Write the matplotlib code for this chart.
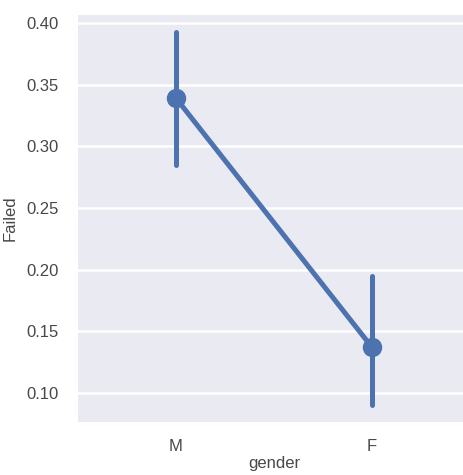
import numpy as np
import matplotlib
matplotlib.use("Agg")
import matplotlib.pyplot as plt

categories = ["M", "F"]
failed_mean = [0.339, 0.137]
ci_low = [0.285, 0.090]
ci_high = [0.393, 0.195]
y_ticks = [0.10, 0.15, 0.20, 0.25, 0.30, 0.35, 0.40]

plt.rcParams["font.family"] = ["Liberation Sans", "DejaVu Sans"]
blue = "#4C72B0"
text_col = "#484848"

fig = plt.figure(figsize=(4.64, 4.75), dpi=100)
ax = fig.add_axes([78 / 464, 53 / 475, 392 / 464, 407 / 475])
ax.set_facecolor("#EAEAF2")
for s in ax.spines.values():
    s.set_visible(False)

x = np.arange(len(categories))
ax.plot(x, failed_mean, color=blue, lw=3.6, marker="o", ms=13, zorder=3)
for xi, lo, hi in zip(x, ci_low, ci_high):
    ax.plot([xi, xi], [lo, hi], color=blue, lw=3.6, solid_capstyle="round", zorder=3)

ax.set_xlim(-0.5, 1.5)
ax.set_ylim(0.0764, 0.4065)
ax.set_xticks(x)
ax.set_xticklabels(categories)
ax.set_yticks(y_ticks)
ax.set_yticklabels([f"{v:.2f}" for v in y_ticks])
ax.yaxis.grid(True, color="white", lw=1.8)
ax.xaxis.grid(False)
ax.set_axisbelow(True)
ax.tick_params(length=0, labelsize=12, colors=text_col, pad=14)
ax.tick_params(axis="x", pad=12)

ax.set_xlabel("gender", fontsize=12, color=text_col, labelpad=2)
ax.set_ylabel("Failed", fontsize=12, color=text_col, labelpad=6)

fig.savefig("out.png", dpi=100)
